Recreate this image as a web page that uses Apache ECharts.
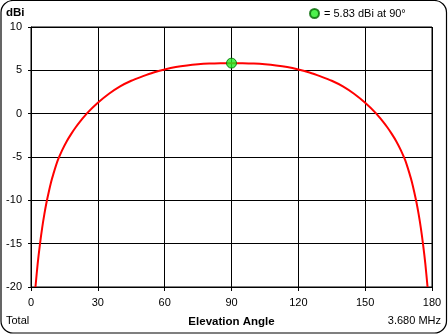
<!DOCTYPE html>
<html>
<head>
<meta charset="utf-8">
<script src="https://cdn.jsdelivr.net/npm/echarts@6/dist/echarts.min.js"></script>
<style>
html,body{margin:0;padding:0;background:#fff;}
#c{width:448px;height:334px;}
</style>
</head>
<body>
<div id="c"></div>
<script>
// Elevation angle (degrees) and gain (dBi)
var angles = [2, 3, 4, 5, 6, 7, 8, 9, 10, 12, 14, 16, 18, 20, 22, 25, 30, 35, 40, 45, 50, 55, 60, 65, 70, 75, 80, 85, 90,
              95, 100, 105, 110, 115, 120, 125, 130, 135, 140, 145, 150, 155, 158, 160, 162, 164, 166, 168, 170, 171, 172, 173, 174, 175, 176, 177, 178];
var gains  = [-20, -17.3, -15.1, -13.2, -11.6, -10.2, -9.0, -7.9, -7.0, -5.4, -4.2, -3.2, -2.36, -1.6, -0.92, 0.01, 1.26, 2.3, 3.15, 3.8, 4.3, 4.75, 5.1, 5.38, 5.57, 5.7, 5.78, 5.82, 5.83,
              5.82, 5.78, 5.7, 5.57, 5.38, 5.1, 4.75, 4.3, 3.8, 3.15, 2.3, 1.26, 0.01, -0.92, -1.6, -2.36, -3.2, -4.2, -5.4, -7.0, -7.9, -9.0, -10.2, -11.6, -13.2, -15.1, -17.3, -20];
var peakAngle = 90;
var peakGain = 5.83;
var xTicks = {min: 0, max: 180, step: 30};
var yTicks = {min: -20, max: 10, step: 5};
var yTitle = 'dBi';
var xTitle = 'Elevation Angle';
var leftNote = 'Total';
var rightNote = '3.680 MHz';
var legendText = '= 5.83 dBi at 90\u00b0';

var font = "'Liberation Sans', Arial, sans-serif";
var lineData = angles.map(function (a, i) { return [a, gains[i]]; });

var chart = echarts.init(document.getElementById('c'), null, {renderer: 'canvas'});
chart.setOption({
  animation: false,
  backgroundColor: '#fff',
  textStyle: {fontFamily: font},
  grid: {left: 31, right: 16, top: 27, bottom: 47, show: true, borderColor: '#000', borderWidth: 1},
  legend: {
    show: true, left: 309, top: 8, padding: 0, itemWidth: 9, itemHeight: 9, itemGap: 4,
    data: [{name: legendText, icon: 'circle'}],
    textStyle: {fontFamily: font, fontSize: 11, color: '#000'}
  },
  xAxis: {
    type: 'value', min: xTicks.min, max: xTicks.max, interval: xTicks.step,
    name: xTitle, nameLocation: 'middle', nameGap: 29,
    nameTextStyle: {fontFamily: font, fontSize: 11.5, fontWeight: 'bold', color: '#000'},
    axisLine: {show: true, onZero: false, lineStyle: {color: '#000', width: 1}},
    axisTick: {show: true, length: 4, lineStyle: {color: '#000'}},
    axisLabel: {color: '#000', fontSize: 11, fontFamily: font, margin: 10},
    splitLine: {show: true, lineStyle: {color: '#000', width: 1}}
  },
  yAxis: {
    type: 'value', min: yTicks.min, max: yTicks.max, interval: yTicks.step,
    axisLine: {show: true, onZero: false, lineStyle: {color: '#000', width: 1}},
    axisTick: {show: true, length: 3, lineStyle: {color: '#000'}},
    axisLabel: {color: '#000', fontSize: 11, fontFamily: font, margin: 9},
    splitLine: {show: true, lineStyle: {color: '#000', width: 1}}
  },
  series: [
    {
      type: 'line', data: lineData, smooth: 0.3, showSymbol: false, clip: true,
      lineStyle: {color: '#ff0000', width: 2}, itemStyle: {color: '#ff0000'}, z: 3
    },
    {
      type: 'scatter', name: legendText, data: [[peakAngle, peakGain]], symbol: 'circle', symbolSize: 10,
      itemStyle: {color: '#22ee22', borderColor: '#006600', borderWidth: 1}, z: 4
    }
  ],
  graphic: [
    {type: 'rect', shape: {x: 1, y: 0.5, width: 445.5, height: 332.5, r: 12}, style: {fill: null, stroke: '#000', lineWidth: 1.2}, silent: true},
    {type: 'text', left: 6, top: 7, style: {text: yTitle, font: 'bold 11.5px ' + font, fill: '#000'}},
    {type: 'text', left: 6, top: 315, style: {text: leftNote, font: '11px ' + font, fill: '#000'}},
    {type: 'text', right: 7, top: 315, style: {text: rightNote, font: '11px ' + font, fill: '#000'}}
  ]
});
</script>
</body>
</html>
